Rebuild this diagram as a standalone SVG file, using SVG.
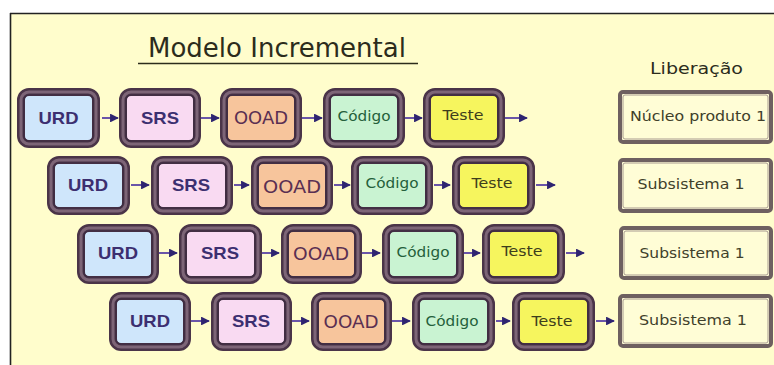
<svg xmlns="http://www.w3.org/2000/svg" width="774" height="365" viewBox="0 0 774 365">
  <defs>
    <style>
      .frame { fill: #fffdcc; }
      .edge { stroke: #222; fill: none; }
      .box-outer { stroke: #4a3448; stroke-width: 8; }
      .box-mid { fill: none; stroke: #7d6577; stroke-width: 3; }
      .box-inner { fill: none; stroke: #3c2a40; stroke-width: 1.2; }
      .urd { fill: #cfe6fb; }
      .srs { fill: #f9daf2; }
      .ooad { fill: #f7c59c; }
      .cod { fill: #c9f3d2; }
      .tst { fill: #f6f55e; }
      .rel-box { fill: #fffdd6; stroke: #6e6060; stroke-width: 4; }
      .rel-inner { fill: none; stroke: #a89a90; stroke-width: 1; }
      .t-bold { font-family: "Liberation Sans", Arial, sans-serif; font-weight: bold; font-size: 17px; fill: #3c2f70; text-anchor: middle; }
      .t-ooad { font-family: "DejaVu Sans", Verdana, sans-serif; font-size: 18px; fill: #5a2f52; text-anchor: middle; }
      .t-cod { font-family: "DejaVu Sans", Verdana, sans-serif; font-size: 14px; fill: #24603a; text-anchor: middle; }
      .t-tst { font-family: "DejaVu Sans", Verdana, sans-serif; font-size: 14px; fill: #3e3e1c; text-anchor: middle; }
      .t-rel { font-family: "DejaVu Sans", Verdana, sans-serif; font-size: 14.5px; fill: #40402a; text-anchor: middle; }
      .title { font-family: "DejaVu Sans", Verdana, sans-serif; font-size: 26px; fill: #2c2c1c; }
      .subtitle { font-family: "DejaVu Sans", Verdana, sans-serif; font-size: 16.5px; fill: #2c2c1c; }
      .link { stroke: #6a55a8; stroke-width: 2; fill: none; marker-end: url(#head); }
    </style>
    <marker id="head" viewBox="0 0 10 10" refX="9" refY="5" markerWidth="4.4" markerHeight="4.4" orient="auto" markerUnits="strokeWidth">
      <path d="M0,0 L10,5 L0,10 z" fill="#2e2470"/>
    </marker>
  </defs>

  <!-- page background and frame -->
  <rect x="0" y="0" width="774" height="365" fill="#ffffff"/>
  <rect x="10" y="13" width="764" height="352" class="frame"/>
  <line x1="10" y1="13.5" x2="774" y2="13.5" class="edge" stroke-width="1.6"/>
  <line x1="10.5" y1="13" x2="10.5" y2="365" class="edge" stroke="#444" stroke-width="1.6"/>

  <!-- headings -->
  <g id="title">
    <text x="148" y="57" class="title">Modelo Incremental</text>
    <line x1="138" y1="63.5" x2="418" y2="63.5" stroke="#2c2c1c" stroke-width="1.6"/>
  </g>
  <g id="release-heading">
    <text x="650" y="74" class="subtitle" textLength="93" lengthAdjust="spacingAndGlyphs">Liberação</text>
  </g>

  <!-- connectors -->
  <g id="connectors">
    <!-- row 1 -->
    <line x1="102" y1="118" x2="118" y2="118" class="link"/>
    <line x1="201" y1="118" x2="219" y2="118" class="link"/>
    <line x1="302" y1="118" x2="322" y2="118" class="link"/>
    <line x1="405" y1="118" x2="422" y2="118" class="link"/>
    <line x1="504" y1="118" x2="527" y2="118" class="link"/>
    <!-- row 2 -->
    <line x1="131" y1="185" x2="149" y2="185" class="link"/>
    <line x1="234" y1="185" x2="249" y2="185" class="link"/>
    <line x1="334" y1="185" x2="350" y2="185" class="link"/>
    <line x1="434" y1="185" x2="450" y2="185" class="link"/>
    <line x1="536" y1="185" x2="555" y2="185" class="link"/>
    <!-- row 3 -->
    <line x1="159" y1="253" x2="177" y2="253" class="link"/>
    <line x1="262" y1="253" x2="279" y2="253" class="link"/>
    <line x1="362" y1="253" x2="380" y2="253" class="link"/>
    <line x1="464" y1="253" x2="480" y2="253" class="link"/>
    <line x1="566" y1="253" x2="584" y2="253" class="link"/>
    <!-- row 4 -->
    <line x1="191" y1="321" x2="209" y2="321" class="link"/>
    <line x1="292" y1="321" x2="309" y2="321" class="link"/>
    <line x1="392" y1="321" x2="410" y2="321" class="link"/>
    <line x1="496" y1="321" x2="510" y2="321" class="link"/>
    <line x1="596" y1="321" x2="614" y2="321" class="link"/>
  </g>

  <!-- row 1 -->
  <g id="r1-urd"><rect x="21" y="92" width="75" height="52" rx="8" class="box-outer urd"/><rect x="21" y="92" width="75" height="52" rx="8" class="box-mid"/><rect x="24" y="95" width="69" height="46" rx="5" class="box-inner"/><text x="58.5" y="124" class="t-bold" textLength="40" lengthAdjust="spacingAndGlyphs">URD</text></g>
  <g id="r1-srs"><rect x="123" y="92" width="74" height="52" rx="8" class="box-outer srs"/><rect x="123" y="92" width="74" height="52" rx="8" class="box-mid"/><rect x="126" y="95" width="68" height="46" rx="5" class="box-inner"/><text x="160" y="124" class="t-bold" textLength="38" lengthAdjust="spacingAndGlyphs">SRS</text></g>
  <g id="r1-ooad"><rect x="224" y="92" width="74" height="52" rx="8" class="box-outer ooad"/><rect x="224" y="92" width="74" height="52" rx="8" class="box-mid"/><rect x="227" y="95" width="68" height="46" rx="5" class="box-inner"/><text x="261" y="124" class="t-ooad" textLength="54" lengthAdjust="spacingAndGlyphs">OOAD</text></g>
  <g id="r1-codigo"><rect x="327" y="92" width="74" height="52" rx="8" class="box-outer cod"/><rect x="327" y="92" width="74" height="52" rx="8" class="box-mid"/><rect x="330" y="95" width="68" height="46" rx="5" class="box-inner"/><text x="364" y="121" class="t-cod" textLength="53" lengthAdjust="spacingAndGlyphs">Código</text></g>
  <g id="r1-teste"><rect x="427" y="92" width="74" height="52" rx="8" class="box-outer tst"/><rect x="427" y="92" width="74" height="52" rx="8" class="box-mid"/><rect x="430" y="95" width="68" height="46" rx="5" class="box-inner"/><text x="463" y="120" class="t-tst" textLength="41" lengthAdjust="spacingAndGlyphs">Teste</text></g>
  <g id="r1-release"><rect x="620" y="92" width="151" height="50" rx="3" class="rel-box"/><rect x="623" y="95" width="145" height="44" rx="2" class="rel-inner"/><text x="698" y="121" class="t-rel" textLength="136" lengthAdjust="spacingAndGlyphs">Núcleo produto 1</text></g>

  <!-- row 2 -->
  <g id="r2-urd"><rect x="51" y="160" width="75" height="51" rx="8" class="box-outer urd"/><rect x="51" y="160" width="75" height="51" rx="8" class="box-mid"/><rect x="54" y="163" width="69" height="45" rx="5" class="box-inner"/><text x="88" y="191" class="t-bold" textLength="40" lengthAdjust="spacingAndGlyphs">URD</text></g>
  <g id="r2-srs"><rect x="155" y="160" width="74" height="51" rx="8" class="box-outer srs"/><rect x="155" y="160" width="74" height="51" rx="8" class="box-mid"/><rect x="158" y="163" width="68" height="45" rx="5" class="box-inner"/><text x="191" y="191" class="t-bold" textLength="38" lengthAdjust="spacingAndGlyphs">SRS</text></g>
  <g id="r2-ooad"><rect x="255" y="160" width="74" height="51" rx="8" class="box-outer ooad"/><rect x="255" y="160" width="74" height="51" rx="8" class="box-mid"/><rect x="258" y="163" width="68" height="45" rx="5" class="box-inner"/><text x="292" y="193" class="t-ooad" textLength="58" lengthAdjust="spacingAndGlyphs">OOAD</text></g>
  <g id="r2-codigo"><rect x="355" y="160" width="74" height="51" rx="8" class="box-outer cod"/><rect x="355" y="160" width="74" height="51" rx="8" class="box-mid"/><rect x="358" y="163" width="68" height="45" rx="5" class="box-inner"/><text x="392" y="188" class="t-cod" textLength="53" lengthAdjust="spacingAndGlyphs">Código</text></g>
  <g id="r2-teste"><rect x="456" y="160" width="75" height="51" rx="8" class="box-outer tst"/><rect x="456" y="160" width="75" height="51" rx="8" class="box-mid"/><rect x="459" y="163" width="69" height="45" rx="5" class="box-inner"/><text x="492" y="188" class="t-tst" textLength="41" lengthAdjust="spacingAndGlyphs">Teste</text></g>
  <g id="r2-release"><rect x="620" y="160" width="151" height="51" rx="3" class="rel-box"/><rect x="623" y="163" width="145" height="45" rx="2" class="rel-inner"/><text x="691" y="189" class="t-rel" textLength="107" lengthAdjust="spacingAndGlyphs">Subsistema 1</text></g>

  <!-- row 3 -->
  <g id="r3-urd"><rect x="81" y="228" width="74" height="52" rx="8" class="box-outer urd"/><rect x="81" y="228" width="74" height="52" rx="8" class="box-mid"/><rect x="84" y="231" width="68" height="46" rx="5" class="box-inner"/><text x="118" y="259" class="t-bold" textLength="40" lengthAdjust="spacingAndGlyphs">URD</text></g>
  <g id="r3-srs"><rect x="183" y="228" width="75" height="52" rx="8" class="box-outer srs"/><rect x="183" y="228" width="75" height="52" rx="8" class="box-mid"/><rect x="186" y="231" width="69" height="46" rx="5" class="box-inner"/><text x="220" y="259" class="t-bold" textLength="38" lengthAdjust="spacingAndGlyphs">SRS</text></g>
  <g id="r3-ooad"><rect x="285" y="228" width="73" height="52" rx="8" class="box-outer ooad"/><rect x="285" y="228" width="73" height="52" rx="8" class="box-mid"/><rect x="288" y="231" width="67" height="46" rx="5" class="box-inner"/><text x="321" y="260" class="t-ooad" textLength="56" lengthAdjust="spacingAndGlyphs">OOAD</text></g>
  <g id="r3-codigo"><rect x="386" y="228" width="74" height="52" rx="8" class="box-outer cod"/><rect x="386" y="228" width="74" height="52" rx="8" class="box-mid"/><rect x="389" y="231" width="68" height="46" rx="5" class="box-inner"/><text x="423" y="257" class="t-cod" textLength="53" lengthAdjust="spacingAndGlyphs">Código</text></g>
  <g id="r3-teste"><rect x="486" y="228" width="75" height="52" rx="8" class="box-outer tst"/><rect x="486" y="228" width="75" height="52" rx="8" class="box-mid"/><rect x="489" y="231" width="69" height="46" rx="5" class="box-inner"/><text x="522" y="256" class="t-tst" textLength="41" lengthAdjust="spacingAndGlyphs">Teste</text></g>
  <g id="r3-release"><rect x="621" y="228" width="150" height="50" rx="3" class="rel-box"/><rect x="624" y="231" width="144" height="44" rx="2" class="rel-inner"/><text x="692" y="258" class="t-rel" textLength="105" lengthAdjust="spacingAndGlyphs">Subsistema 1</text></g>

  <!-- row 4 -->
  <g id="r4-urd"><rect x="113" y="296" width="74" height="51" rx="8" class="box-outer urd"/><rect x="113" y="296" width="74" height="51" rx="8" class="box-mid"/><rect x="116" y="299" width="68" height="45" rx="5" class="box-inner"/><text x="150" y="327" class="t-bold" textLength="40" lengthAdjust="spacingAndGlyphs">URD</text></g>
  <g id="r4-srs"><rect x="215" y="296" width="73" height="51" rx="8" class="box-outer srs"/><rect x="215" y="296" width="73" height="51" rx="8" class="box-mid"/><rect x="218" y="299" width="67" height="45" rx="5" class="box-inner"/><text x="251" y="327" class="t-bold" textLength="38" lengthAdjust="spacingAndGlyphs">SRS</text></g>
  <g id="r4-ooad"><rect x="315" y="296" width="73" height="51" rx="8" class="box-outer ooad"/><rect x="315" y="296" width="73" height="51" rx="8" class="box-mid"/><rect x="318" y="299" width="67" height="45" rx="5" class="box-inner"/><text x="351" y="328" class="t-ooad" textLength="55" lengthAdjust="spacingAndGlyphs">OOAD</text></g>
  <g id="r4-codigo"><rect x="416" y="296" width="75" height="51" rx="8" class="box-outer cod"/><rect x="416" y="296" width="75" height="51" rx="8" class="box-mid"/><rect x="419" y="299" width="69" height="45" rx="5" class="box-inner"/><text x="452" y="326" class="t-cod" textLength="53" lengthAdjust="spacingAndGlyphs">Código</text></g>
  <g id="r4-teste"><rect x="516" y="296" width="75" height="51" rx="8" class="box-outer tst"/><rect x="516" y="296" width="75" height="51" rx="8" class="box-mid"/><rect x="519" y="299" width="69" height="45" rx="5" class="box-inner"/><text x="552" y="326" class="t-tst" textLength="41" lengthAdjust="spacingAndGlyphs">Teste</text></g>
  <g id="r4-release"><rect x="620" y="296" width="151" height="50" rx="3" class="rel-box"/><rect x="623" y="299" width="145" height="44" rx="2" class="rel-inner"/><text x="693" y="325" class="t-rel" textLength="108" lengthAdjust="spacingAndGlyphs">Subsistema 1</text></g>
</svg>
